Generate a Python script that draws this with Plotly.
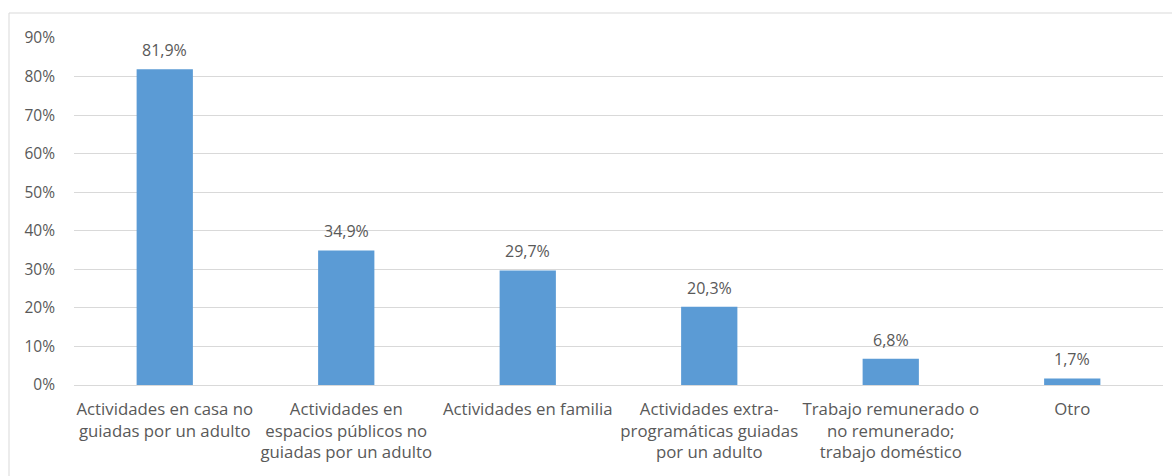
import plotly.graph_objects as go

categories = [
    "Actividades en casa no<br>guiadas por un adulto",
    "Actividades en<br>espacios públicos no<br>guiadas por un adulto",
    "Actividades en familia",
    "Actividades extra-<br>programáticas guiadas<br>por un adulto",
    "Trabajo remunerado o<br>no remunerado;<br>trabajo doméstico",
    "Otro",
]
values = [0.819, 0.349, 0.297, 0.203, 0.068, 0.017]
tick_vals = [0, 0.1, 0.2, 0.3, 0.4, 0.5, 0.6, 0.7, 0.8, 0.9]

font_family = "Open Sans, Noto Sans, sans-serif"
text_color = "#595959"

fig = go.Figure(
    go.Bar(
        x=categories,
        y=values,
        marker=dict(color="#5B9BD5", line=dict(width=0)),
        width=0.31,
        hoverinfo="skip",
    )
)

for c, v in zip(categories, values):
    fig.add_annotation(
        x=c, y=v, xref="x", yref="y",
        text=f"{v * 100:.1f}%".replace(".", ","),
        showarrow=False, yanchor="middle", yshift=19,
        font=dict(size=16, color=text_color, family=font_family),
    )

fig.update_layout(
    width=1172,
    height=476,
    paper_bgcolor="white",
    plot_bgcolor="white",
    margin=dict(l=74, r=9, t=38, b=91, autoexpand=False),
    showlegend=False,
    font=dict(family=font_family, size=16, color=text_color),
    xaxis=dict(
        showgrid=False,
        showline=False,
        ticks="",
        tickangle=0,
        automargin=False,
        tickfont=dict(size=16.8, color=text_color),
        ticklabelstandoff=12,
        range=[-0.5, 5.5],
    ),
    yaxis=dict(
        range=[0, 0.9],
        tickvals=tick_vals,
        tickformat=".0%",
        automargin=False,
        showgrid=True,
        gridcolor="#d9d9d9",
        gridwidth=1,
        zeroline=True,
        zerolinecolor="#d9d9d9",
        zerolinewidth=1,
        showline=False,
        ticks="",
        ticklabelstandoff=18,
        tickfont=dict(size=15.5, color=text_color),
    ),
    shapes=[
        dict(type="line", xref="paper", yref="paper",
             x0=(9 - 74) / 1089, x1=(1172 - 74) / 1089,
             y0=(385 - 13) / 347, y1=(385 - 13) / 347,
             line=dict(color="#d9d9d9", width=1)),
        dict(type="line", xref="paper", yref="paper",
             x0=(9 - 74) / 1089, x1=(9 - 74) / 1089,
             y0=(385 - 13) / 347, y1=(385 - 476) / 347,
             line=dict(color="#d9d9d9", width=1)),
    ],
)

fig.write_html(
    "out.html",
    config={"displayModeBar": False},
    post_script="document.body.style.margin='0px';document.body.style.padding='0px';",
)
